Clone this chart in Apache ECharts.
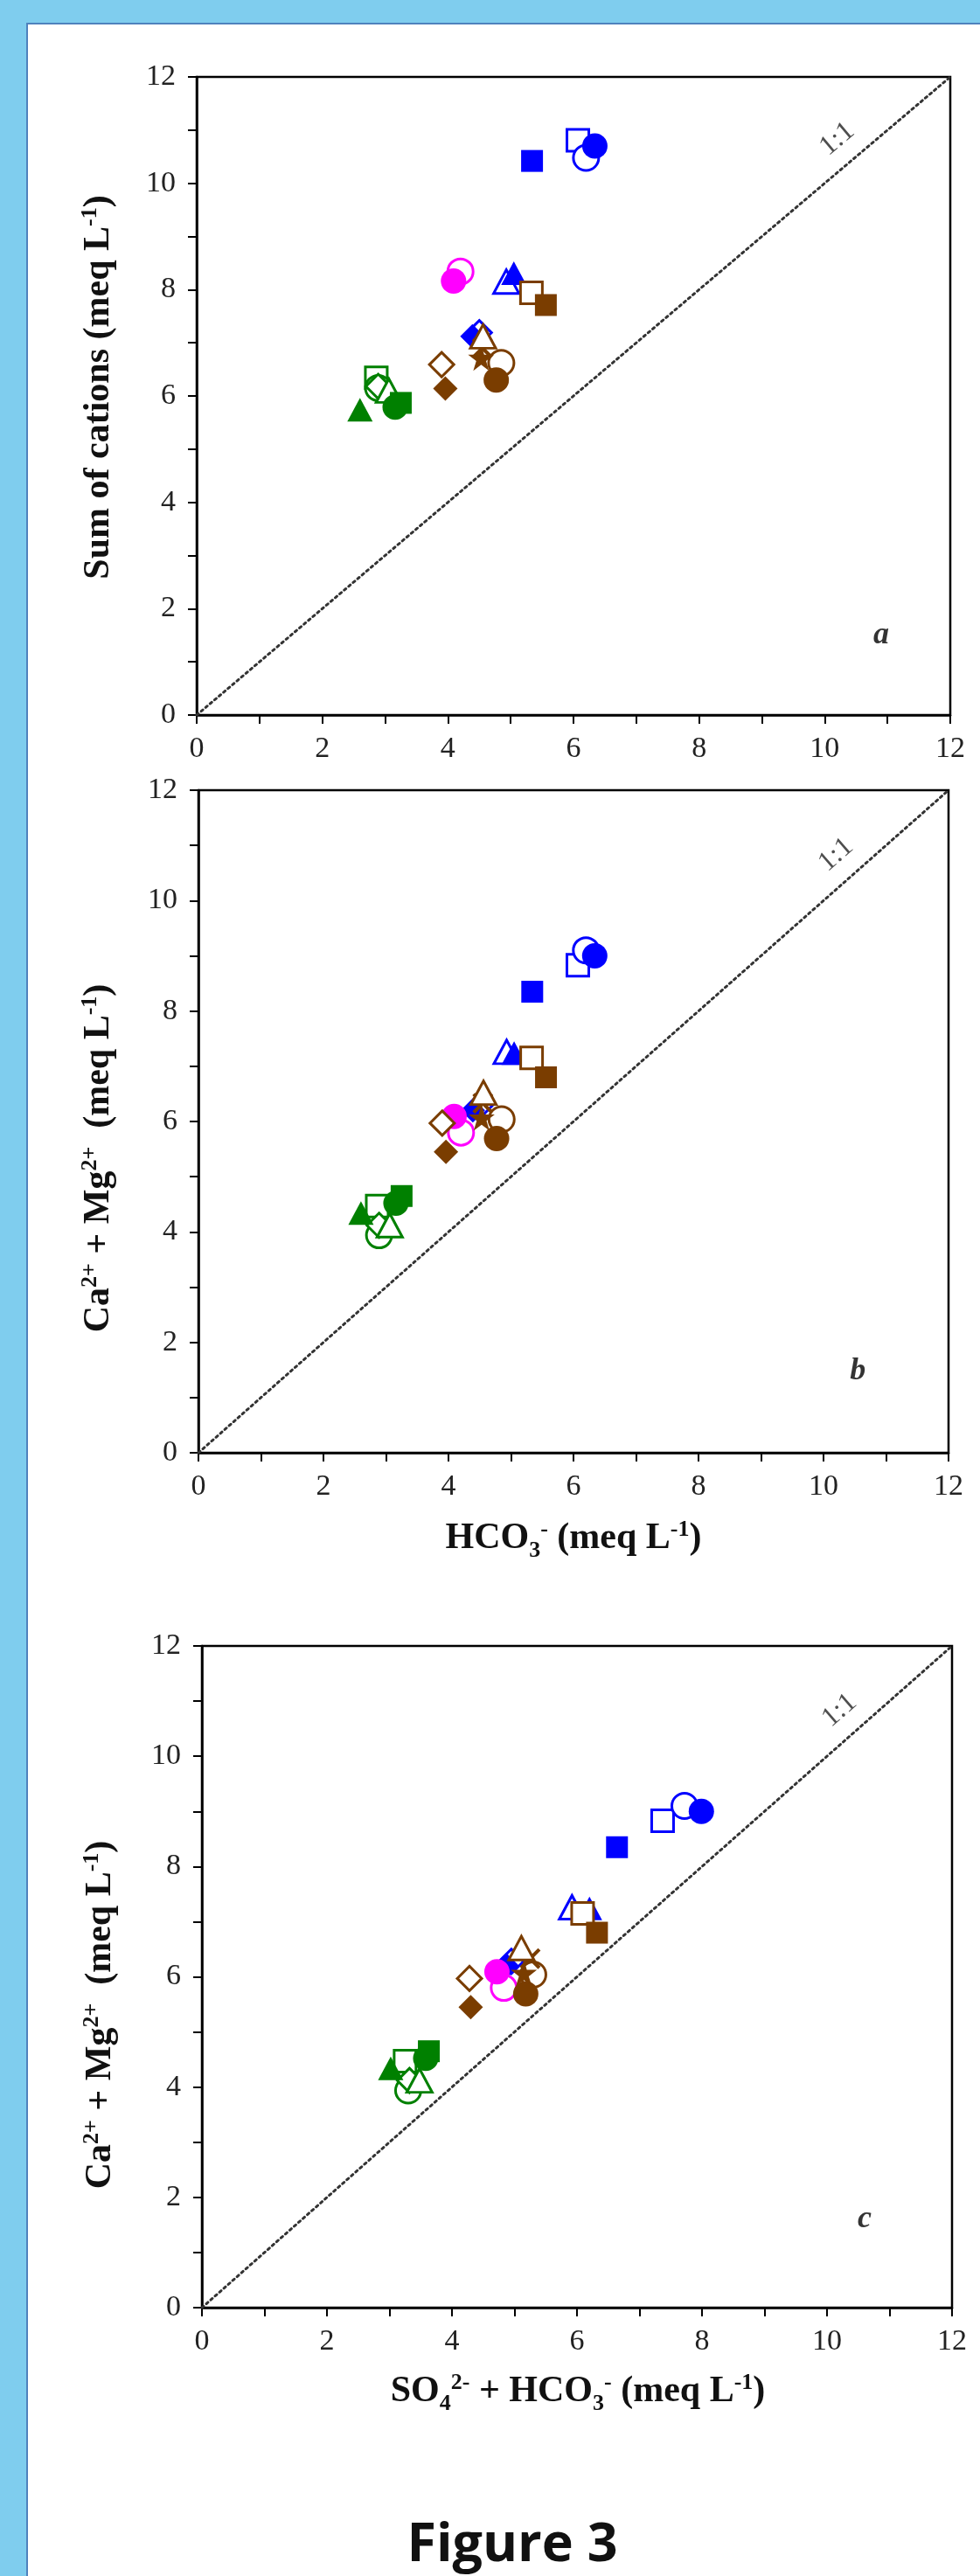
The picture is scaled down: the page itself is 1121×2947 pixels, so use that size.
<!DOCTYPE html>
<html>
<head>
<meta charset="utf-8">
<script src="https://cdn.jsdelivr.net/npm/echarts@6/dist/echarts.min.js"></script>
<style>
html, body { margin: 0; padding: 0; }
body { width: 1121px; height: 2947px; background: #7fcdee; position: relative; overflow: hidden; }
#panel { position: absolute; left: 30px; top: 26px; right: 0; bottom: 0; background: #fff;
         border-left: 2px solid #4f82bd; border-top: 2px solid #4f82bd; }
#chart_1 { position: absolute; left: 0; top: 0; width: 1121px; height: 2947px; }
</style>
</head>
<body>
<div id="panel"></div>
<div id="chart_1"></div>
<script>
var dom = document.getElementById("chart_1");
var myChart = echarts.init(dom);

// one value per marker (same order in every array)
// HCO3- (meq/L) : x of panels a and b
var hco3 = [6.07, 5.34, 6.20, 6.34, 4.93, 5.05, 4.50, 4.39, 4.20, 4.09,
            5.33, 5.56, 4.85, 4.77, 3.90, 3.96, 4.53, 4.55, 4.56,
            2.86, 2.89, 2.89, 3.06, 3.16, 3.25, 2.60];
// sum of cations (meq/L) : y of panel a
var cations = [10.81, 10.42, 10.48, 10.70, 8.15, 8.31, 7.19, 7.12, 8.34, 8.16,
               7.94, 7.71, 6.62, 6.30, 6.59, 6.14, 6.72, 6.90, 7.12,
               6.34, 6.15, 6.18, 6.10, 5.79, 5.87, 5.74];
// Ca2+ + Mg2+ (meq/L) : y of panels b and c
var caMg = [8.83, 8.35, 9.10, 9.00, 7.26, 7.24, 6.28, 6.20, 5.80, 6.09,
            7.15, 6.80, 6.04, 5.69, 5.97, 5.45, 6.07, 6.33, 6.52,
            4.47, 3.94, 4.12, 4.12, 4.52, 4.65, 4.34];
// SO4 2- + HCO3- (meq/L) : x of panel c
var so4hco3 = [7.37, 6.64, 7.72, 7.99, 5.92, 6.20, 4.95, 4.88, 4.83, 4.72,
               6.09, 6.32, 5.30, 5.18, 4.28, 4.30, 5.15, 5.25, 5.11,
               3.25, 3.30, 3.32, 3.48, 3.58, 3.63, 3.02];

var axisTicks = [0, 2, 4, 6, 8, 10, 12];
var panelTags = ['a', 'b', 'c'];

var BLUE = '#0000ff', MAG = '#ff00ff', BROWN = '#7a3d00', GREEN = '#008000';
var STAR = 'path://M50,0L61,35L98,35L68,57L79,91L50,70L21,91L32,57L2,35L39,35Z';
var CROSS = 'path://M12,0L50,38L88,0L100,12L62,50L100,88L88,100L50,62L12,100L0,88L38,50L0,12Z';

// colour, symbol, open?
var marks = [
    [BLUE, 'rect', true], [BLUE, 'rect', false], [BLUE, 'circle', true], [BLUE, 'circle', false],
    [BLUE, 'triangle', true], [BLUE, 'triangle', false], [BLUE, 'diamond', true], [BLUE, 'diamond', false],
    [MAG, 'circle', true], [MAG, 'circle', false],
    [BROWN, 'rect', true], [BROWN, 'rect', false], [BROWN, 'circle', true], [BROWN, 'circle', false],
    [BROWN, 'diamond', true], [BROWN, 'diamond', false], [BROWN, STAR, false], [BROWN, CROSS, false],
    [BROWN, 'triangle', true],
    [GREEN, 'rect', true], [GREEN, 'circle', true], [GREEN, 'diamond', true], [GREEN, 'triangle', true],
    [GREEN, 'circle', false], [GREEN, 'rect', false], [GREEN, 'triangle', false]
];
var sizes = { rect: 25, circle: 29, triangle: [29, 27], diamond: 28 };
sizes[STAR] = 30;
sizes[CROSS] = 24;

var panels = [
    { x: hco3, y: cations },
    { x: hco3, y: caMg },
    { x: so4hco3, y: caMg }
];
var grids = [
    { left: 225, top: 88, width: 862, height: 730 },
    { left: 227, top: 904, width: 858, height: 758 },
    { left: 231, top: 1883, width: 858, height: 757 }
];
var tagPos = [[10.9, 1.5], [10.55, 1.47], [10.6, 1.6]];
var oneToOnePos = [10.2, 10.83];

var serif = 'Liberation Serif';

function makeAxis(i, isX) {
    return {
        type: 'value', gridIndex: i, min: 0, max: 12, interval: 1,
        axisLine: { show: true, onZero: false, lineStyle: { color: '#000', width: 2.5 } },
        axisTick: { show: true, inside: false, length: 10, lineStyle: { color: '#000', width: 2 } },
        axisLabel: {
            margin: isX ? 22 : 24, fontFamily: serif, fontSize: 34, color: '#222',
            formatter: function (v) { return axisTicks.indexOf(v) >= 0 ? String(v) : ''; }
        },
        splitLine: { show: false }
    };
}

var xAxes = [], yAxes = [], series = [];
grids.forEach(function (g, p) {
    g.show = true;
    g.borderColor = '#000';
    g.borderWidth = 2.5;
    g.backgroundColor = 'transparent';
    xAxes.push(makeAxis(p, true));
    yAxes.push(makeAxis(p, false));

    // 1:1 line
    series.push({
        type: 'line', xAxisIndex: p, yAxisIndex: p, symbol: 'none', silent: true, z: 1,
        lineStyle: { color: '#333', width: 3, type: [2.5, 4.2], cap: 'round' },
        data: [[0, 0], [12, 12]]
    });

    var px = panels[p].x, py = panels[p].y;
    marks.forEach(function (m, i) {
        var open = m[2];
        series.push({
            type: 'scatter', xAxisIndex: p, yAxisIndex: p, silent: true, z: 3,
            symbol: m[1], symbolSize: sizes[m[1]],
            itemStyle: open ? { color: '#fff', borderColor: m[0], borderWidth: 3, opacity: 1 }
                            : { color: m[0], opacity: 1 },
            data: [[px[i], py[i]]]
        });
    });

    // annotations
    series.push({
        type: 'scatter', xAxisIndex: p, yAxisIndex: p, silent: true, z: 4,
        symbolSize: 0, itemStyle: { color: 'transparent' },
        label: { show: true, position: 'inside', formatter: '1:1', rotate: p === 0 ? 40 : 41,
                 fontFamily: serif, fontSize: 32, color: '#222' },
        data: [oneToOnePos]
    });
    series.push({
        type: 'scatter', xAxisIndex: p, yAxisIndex: p, silent: true, z: 4,
        symbolSize: 0, itemStyle: { color: 'transparent' },
        label: { show: true, position: 'inside', formatter: panelTags[p],
                 fontFamily: serif, fontSize: 36, fontStyle: 'italic', fontWeight: 'bold', color: '#000' },
        data: [tagPos[p]]
    });
});

var richBase = {
    sup: { fontFamily: serif, fontSize: 26, fontWeight: 'bold', verticalAlign: 'top', padding: [4, 0, 0, 0], fill: '#111' },
    sub: { fontFamily: serif, fontSize: 26, fontWeight: 'bold', verticalAlign: 'bottom', fill: '#111' }
};
function title(text, x, y, vertical) {
    return {
        type: 'text', x: x, y: y, rotation: vertical ? Math.PI / 2 : 0, silent: true,
        style: {
            text: text, fontFamily: serif, fontSize: 42, fontWeight: 'bold', lineHeight: 54,
            fill: '#111', align: 'center', verticalAlign: 'middle', rich: richBase
        }
    };
}

option = {
    animation: false,
    grid: grids,
    xAxis: xAxes,
    yAxis: yAxes,
    series: series,
    graphic: [
        title('Sum of cations (meq L{sup|-1})', 113, 443, true),
        title('Ca{sup|2+} + Mg{sup|2+}  (meq L{sup|-1})', 113, 1325, true),
        title('Ca{sup|2+} + Mg{sup|2+}  (meq L{sup|-1})', 115, 2305, true),
        title('HCO{sub|3}{sup|-} (meq L{sup|-1})', 656, 1760, false),
        title('SO{sub|4}{sup|2-} + HCO{sub|3}{sup|-} (meq L{sup|-1})', 661, 2736, false),
        {
            type: 'text', x: 586, y: 2913, silent: true,
            style: { text: 'Figure 3', fontFamily: 'Open Sans', fontSize: 61, fontWeight: 'bold',
                     fill: '#111', align: 'center', verticalAlign: 'middle' }
        }
    ]
};

if (option && typeof option === "object") {
    myChart.setOption(option, true);
}
</script>
</body>
</html>
